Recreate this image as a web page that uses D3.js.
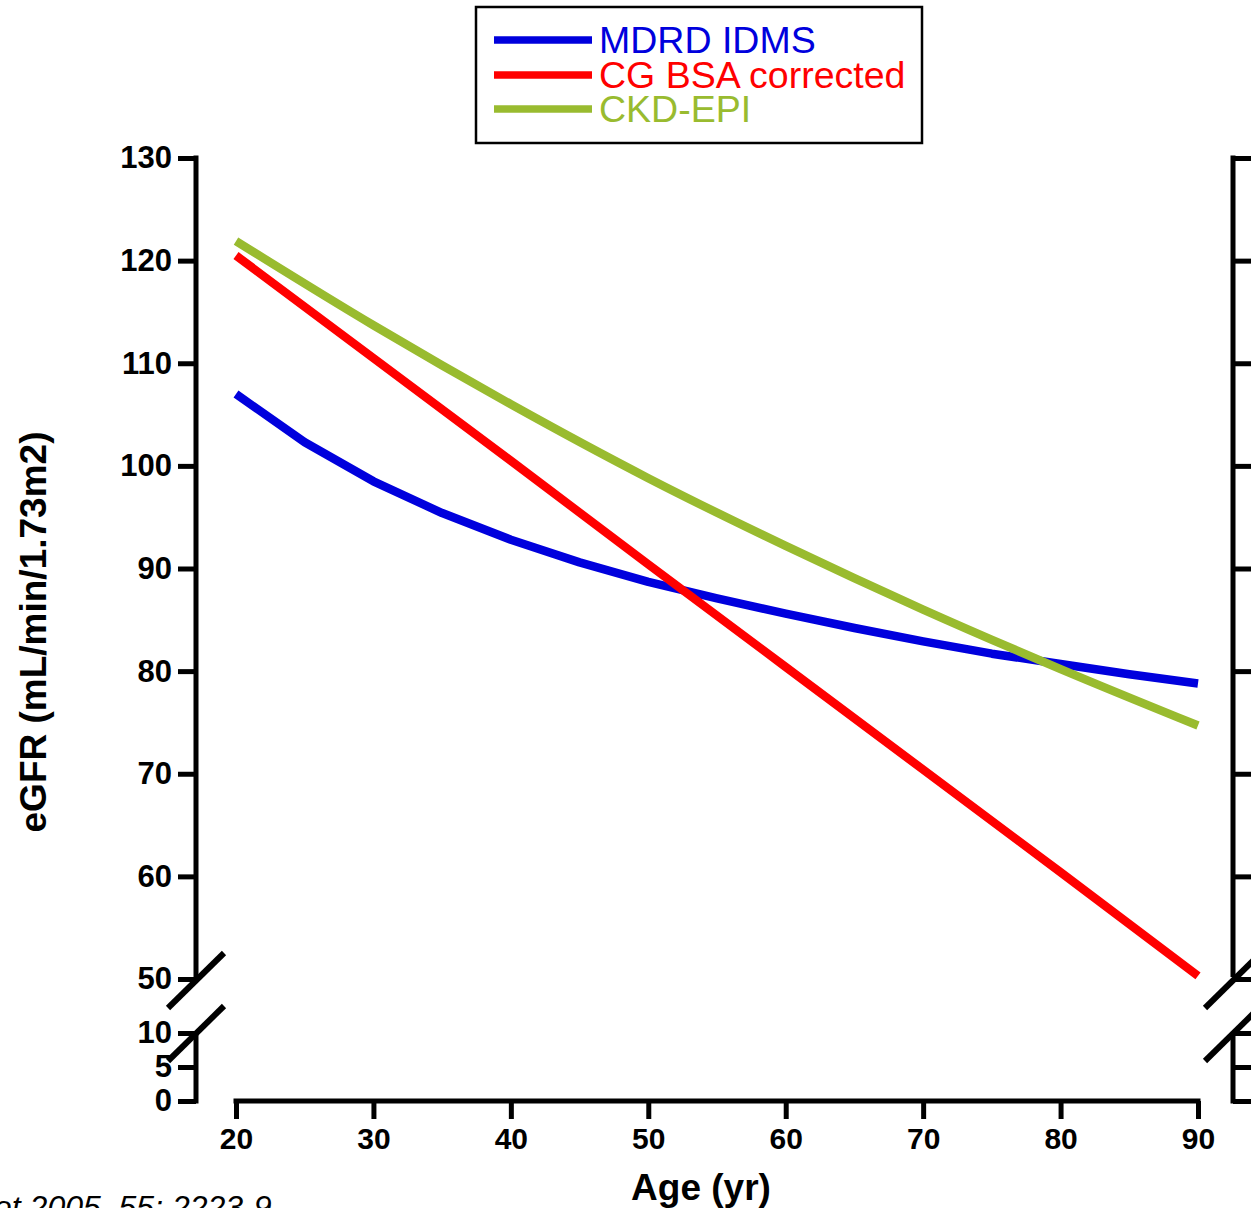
<!DOCTYPE html>
<html>
<head>
<meta charset="utf-8">
<script src="https://cdn.jsdelivr.net/npm/d3@7"></script>
<style>
  html, body { margin: 0; padding: 0; background: #fff; }
  svg { display: block; }
  text { font-family: "Liberation Sans", Arial, Helvetica, sans-serif; }
</style>
</head>
<body>
<svg id="chart" width="1251" height="1208"></svg>
<script>
// ---- data ----
const seriesNames = ["MDRD IDMS", "CG BSA corrected", "CKD-EPI"];
const seriesColors = ["#0000dd", "#ff0000", "#99bb2f"];
const agesMdrd = [20, 25, 30, 35, 40, 45, 50, 55, 60, 65, 70, 75, 80, 85, 90];
const mdrd = [107.0, 102.3, 98.5, 95.4, 92.8, 90.6, 88.7, 87.1, 85.6, 84.2, 82.9, 81.7, 80.7, 79.7, 78.8];
const ages10 = [20, 30, 40, 50, 60, 70, 80, 90];
const cg = [120.5, 110.5, 100.5, 90.4, 80.4, 70.4, 60.4, 50.3];
const ckdepi = [121.9, 113.7, 106.0, 98.8, 92.2, 86.0, 80.2, 74.7];
const xTicks = [20, 30, 40, 50, 60, 70, 80, 90];
const yTicksUpper = [50, 60, 70, 80, 90, 100, 110, 120, 130];
const yTicksLower = [0, 5, 10];
const xTitle = "Age (yr)";
const yTitle = "eGFR (mL/min/1.73m2)";
const citation = "et 2005, 55: 2223-9";

// ---- layout ----
const svg = d3.select("#chart");
const x = d3.scaleLinear().domain([20, 90]).range([236, 1198]);
// broken y axis: 0-10 compressed segment, 50-130 main segment
const y = d3.scaleLinear().domain([0, 10, 50, 130]).range([1101, 1033, 979, 158]);
const axisLeftX = 196, axisRightX = 1233, axisBottomY = 1101;
const axisW = 5, tickLen = 18;

// left axis
const gL = svg.append("g").attr("transform", `translate(${axisLeftX},0)`)
  .call(d3.axisLeft(y).tickValues(yTicksLower.concat(yTicksUpper)).tickSize(tickLen).tickPadding(6));
gL.select(".domain").remove();
gL.selectAll(".tick line").attr("stroke", "#000").attr("stroke-width", axisW);
gL.selectAll(".tick text").attr("font-size", 31).attr("font-weight", "bold").attr("fill", "#000");

// right axis
const gR = svg.append("g").attr("transform", `translate(${axisRightX},0)`)
  .call(d3.axisRight(y).tickValues(yTicksLower.concat(yTicksUpper)).tickSize(tickLen).tickFormat(""));
gR.select(".domain").remove();
gR.selectAll(".tick line").attr("stroke", "#000").attr("stroke-width", axisW);

// axis segments
[axisLeftX, axisRightX].forEach(ax => {
  svg.append("line").attr("x1", ax).attr("x2", ax)
    .attr("y1", y(130) - axisW / 2).attr("y2", y(50) - 2)
    .attr("stroke", "#000").attr("stroke-width", axisW);
  svg.append("line").attr("x1", ax).attr("x2", ax)
    .attr("y1", y(10)).attr("y2", y(0) + axisW / 2)
    .attr("stroke", "#000").attr("stroke-width", axisW);
  // break slashes
  [y(50) + 1, y(10)].forEach(cy => {
    svg.append("line")
      .attr("x1", ax - 28).attr("y1", cy + 28)
      .attr("x2", ax + 28).attr("y2", cy - 27)
      .attr("stroke", "#000").attr("stroke-width", 6);
  });
});

// bottom axis
const gB = svg.append("g").attr("transform", `translate(0,${axisBottomY})`)
  .call(d3.axisBottom(x).tickValues(xTicks).tickSize(tickLen).tickPadding(9));
gB.select(".domain").remove();
gB.append("line").attr("x1", x(20) - axisW / 2).attr("x2", x(90) + axisW / 2)
  .attr("y1", 0).attr("y2", 0).attr("stroke", "#000").attr("stroke-width", axisW);
gB.selectAll(".tick line").attr("stroke", "#000").attr("stroke-width", axisW);
gB.selectAll(".tick text").attr("font-size", 30).attr("font-weight", "bold").attr("fill", "#000");

// titles
svg.append("text").attr("x", 701).attr("y", 1200).attr("text-anchor", "middle")
  .attr("font-size", 37).attr("font-weight", "bold").text(xTitle);
svg.append("text").attr("transform", "translate(46,632) rotate(-90)").attr("text-anchor", "middle")
  .attr("font-size", 37).attr("font-weight", "bold").text(yTitle);
svg.append("text").attr("x", -6).attr("y", 1218).attr("font-size", 32)
  .attr("font-style", "italic").text(citation);

// series lines
const lineLinear = d3.line().x(d => x(d[0])).y(d => y(d[1]));
const lineSmooth = d3.line().x(d => x(d[0])).y(d => y(d[1])).curve(d3.curveMonotoneX);
const series = [
  { pts: agesMdrd.map((a, i) => [a, mdrd[i]]), gen: lineLinear },
  { pts: ages10.map((a, i) => [a, cg[i]]), gen: lineLinear },
  { pts: ages10.map((a, i) => [a, ckdepi[i]]), gen: lineSmooth }
];
series.forEach((s, i) => {
  svg.append("path").attr("d", s.gen(s.pts)).attr("fill", "none")
    .attr("stroke", seriesColors[i]).attr("stroke-width", 8.5)
    .attr("stroke-linejoin", "round");
});

// legend
const lg = svg.append("g");
lg.append("rect").attr("x", 476).attr("y", 7).attr("width", 446).attr("height", 136)
  .attr("fill", "#fff").attr("stroke", "#000").attr("stroke-width", 2.5);
const legY = [40, 75, 109];
seriesNames.forEach((n, i) => {
  lg.append("line").attr("x1", 494).attr("x2", 592).attr("y1", legY[i]).attr("y2", legY[i])
    .attr("stroke", seriesColors[i]).attr("stroke-width", 7.5);
  lg.append("text").attr("x", 599).attr("y", legY[i] + 13).attr("font-size", 37.5)
    .attr("fill", seriesColors[i]).text(n);
});
</script>
</body>
</html>
